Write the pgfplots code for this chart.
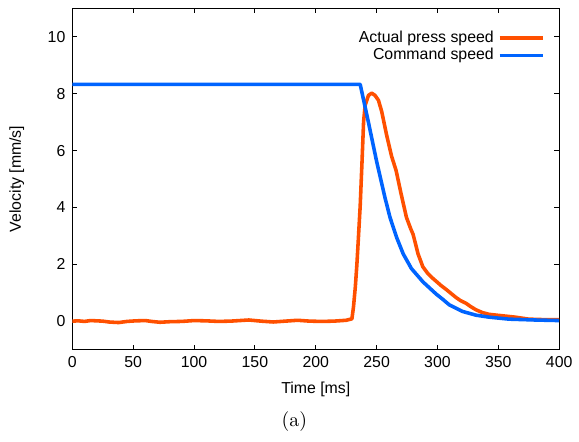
\documentclass[border=0pt]{standalone}
\usepackage{fontspec}
\setsansfont{Liberation Sans}
\usepackage{pgfplots}
\pgfplotsset{compat=1.18}

\definecolor{actual}{RGB}{255,80,0}
\definecolor{command}{RGB}{0,100,255}

\begin{document}
\begin{tikzpicture}
\begin{axis}[
    name=ax,
    scale only axis,
    width=245.6pt,
    height=172.1pt,
    xmin=0, xmax=400,
    ymin=-1, ymax=11,
    xtick={0,50,...,400},
    ytick={0,2,...,10},
    minor tick num=0,
    tick align=inside,
    major tick length=2.5pt,
    axis line style={line width=0.5pt},
    every tick/.style={black,line width=0.5pt},
    /pgf/number format/assume math mode=true,
    tick label style={font=\sffamily\fontsize{8}{9}\selectfont},
    xlabel={Time [ms]},
    ylabel={Velocity [mm/s]},
    every axis x label/.style={at={(rel axis cs:0.5,0)}, yshift=-20.2pt, anchor=center,
        font=\sffamily\fontsize{8}{9}\selectfont},
    every axis y label/.style={at={(rel axis cs:0,0.5)}, xshift=-28pt, rotate=90, anchor=center,
        font=\sffamily\fontsize{8}{9}\selectfont},
    legend style={at={(rel axis cs:1,1)}, anchor=north east, xshift=-4pt, yshift=-7pt,
        draw=none, fill=none, font=\sffamily\fontsize{8}{9}\selectfont,
        row sep=-2.5pt},
    legend cell align=right,
    legend plot pos=right,
    legend image code/.code={\draw[#1] (0pt,0pt) -- (22pt,0pt);},
]
\addplot[color=actual, line width=1.8pt, line join=round] coordinates {
    (0,0.0) (5,0.01) (10,-0.01) (15,0.02) (20,0.01) (25,0.0) (30,-0.03) (38,-0.05)
    (45,-0.01) (52,0.01) (60,0.02) (65,-0.01) (72,-0.04) (80,-0.02) (90,-0.01)
    (100,0.02) (110,0.01) (120,-0.01) (130,0.0) (145,0.04) (155,0.0) (165,-0.03)
    (175,0.0) (185,0.03) (195,0.0) (205,-0.01) (215,0.0) (225,0.03)
    (229.7,0.08) (231,0.5) (232.5,1.2) (233.8,2.0) (235,2.9) (236.5,4.05) (238,5.6)
    (239.3,7.02) (240.6,7.6) (243.3,7.94) (246,8.02) (248.7,7.94) (251.5,7.77)
    (254.2,7.37) (258.2,6.55) (262.3,5.8) (266,5.3) (270,4.5) (274.5,3.65) (278,3.25)
    (280,3.05) (284,2.37) (288,1.91) (292,1.68) (296.3,1.5) (299,1.40) (303,1.25)
    (307,1.12) (311,0.98) (315.3,0.83) (319,0.72) (323.4,0.63) (327,0.52) (331.6,0.40)
    (337,0.30) (342.4,0.24) (353,0.19) (364,0.14) (375,0.07) (390,0.05) (400,0.05)
};
\addlegendentry{Actual press speed}
\addplot[color=command, line width=1.8pt, line join=round] coordinates {
    (0,8.33) (236.5,8.33) (243,7.05) (250,5.62) (256.9,4.34) (261,3.65) (266.4,2.95)
    (271.8,2.37) (278.6,1.85) (288.1,1.38) (299,0.95) (304,0.78) (309.8,0.57)
    (320.7,0.34) (331.6,0.21) (342.4,0.14) (358.7,0.07) (380,0.04) (400,0.02)
};
\addlegendentry{Command speed}
\end{axis}
\node[font=\normalsize, anchor=center] at ([xshift=112pt, yshift=-36.1pt]ax.south west) {(a)};
\path ([xshift=-36.5pt, yshift=-46.15pt]ax.south west) rectangle ([xshift=7.65pt, yshift=4.25pt]ax.north east);
\end{tikzpicture}
\end{document}
